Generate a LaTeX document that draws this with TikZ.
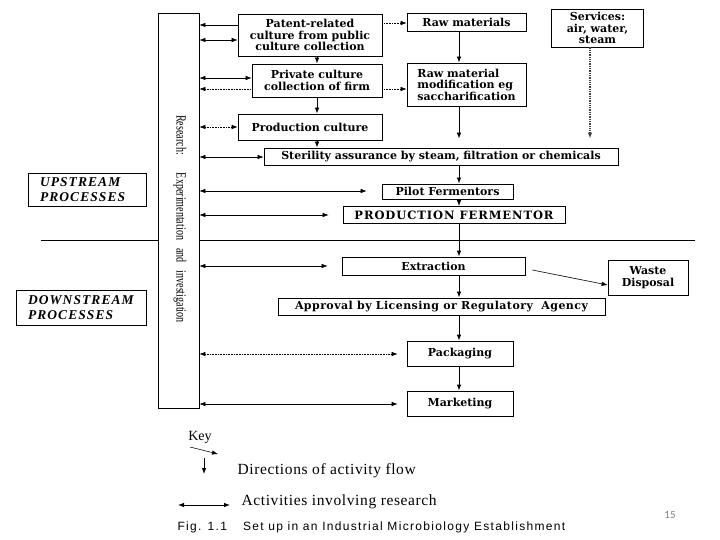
\documentclass[tikz,border=0pt]{standalone}
\usepackage{fontspec}
\setmainfont{Liberation Serif}
\newfontfamily\boxfont{DejaVu Serif}
\newfontfamily\resfont{Liberation Serif}
\newfontfamily\narrowfont[FakeStretch=0.72]{Liberation Serif}
\newfontfamily\capfont{Liberation Sans}
\newfontfamily\numfont{Carlito}
\usetikzlibrary{arrows.meta}
\tikzset{
  >={Latex[length=6pt,width=4.5pt]},
  pbox/.style={draw, line width=0.8pt, inner sep=0pt, align=center,
    font=\boxfont\bfseries\fontsize{11}{11.5}\selectfont},
  sidebox/.style={draw, line width=0.8pt, inner sep=0pt, align=left,
    font=\resfont\bfseries\itshape\fontsize{13.5}{15}\selectfont\addfontfeatures{LetterSpace=8}},
  flow/.style={->, line width=0.8pt},
  res/.style={<->, line width=0.6pt},
  resl/.style={<-, line width=0.6pt},
  dotl/.style={densely dotted},
}
\begin{document}
\begin{tikzpicture}[x=1pt,y=-1pt]
\path[use as bounding box] (0,0) rectangle (720,540);

% main column boxes
\node[pbox, minimum width=41pt, minimum height=395pt] (research) at (178.5,210.5) {};
\node[font=\narrowfont\fontsize{14}{15}\selectfont, rotate=-90] (restext) at (180,219)
  {Research:\hspace{18pt}Experimentation\hspace{8pt}and\hspace{8pt}investigation};

\node[pbox, minimum width=144pt, minimum height=42pt] (patent) at (310,35)
  {Patent-related\\culture from public\\culture collection};
\node[pbox, minimum width=119pt, minimum height=18pt] (raw) at (466.5,22) {Raw materials};
\node[pbox, minimum width=92pt, minimum height=38pt] (services) at (597.5,28)
  {Services:\\air, water,\\steam};
\node[pbox, minimum width=130pt, minimum height=33pt] (private) at (317,80.5)
  {Private culture\\collection of firm};
\node[pbox, minimum width=119pt, minimum height=43pt, align=left] (rawmod) at (466.5,84.5)
  {Raw material\\modification eg\\saccharification};
\node[pbox, minimum width=144pt, minimum height=26pt] (prodcult) at (310,127)
  {Production culture};
\node[pbox, minimum width=354pt, minimum height=17pt] (steril) at (441,156.5)
  {Sterility assurance by steam, filtration or chemicals};
\node[pbox, minimum width=131pt, minimum height=15pt] (pilot) at (447.5,191.5)
  {Pilot Fermentors};
\node[pbox, minimum width=222pt, minimum height=17pt,
  font=\boxfont\bfseries\fontsize{11.5}{12}\selectfont\addfontfeatures{LetterSpace=8}] (pferm) at (454,215)
  {PRODUCTION FERMENTOR};
\node[pbox, minimum width=183pt, minimum height=18pt] (extract) at (433.5,266)
  {Extraction};
\node[pbox, minimum width=80pt, minimum height=35pt] (waste) at (648,277.5)
  {Waste\\Disposal};
\node[pbox, minimum width=327pt, minimum height=17pt,
  font=\boxfont\bfseries\fontsize{11}{12}\selectfont\addfontfeatures{LetterSpace=4}] (approval) at (441.5,306.5)
  {Approval by Licensing or Regulatory\ \ Agency};
\node[pbox, minimum width=106pt, minimum height=25pt] (packaging) at (460,353.5)
  {Packaging};
\node[pbox, minimum width=106pt, minimum height=25pt] (marketing) at (460,403.5)
  {Marketing};

% side labels
\node[sidebox, minimum width=118pt, minimum height=33pt, text width=94pt] (upstream) at (87,189.5)
  {UPSTREAM\\PROCESSES};
\node[sidebox, minimum width=130pt, minimum height=35pt, text width=106pt] (downstream) at (81,307.5)
  {DOWNSTREAM\\PROCESSES};

% divider
\coordinate (ydiv) at (0,240.5);
\coordinate (xdivl) at (41,0);
\coordinate (xdivr) at (695,0);
\draw[line width=1.6pt] (xdivl |- ydiv) -- (research.west |- ydiv);
\draw[line width=1.6pt] (research.east |- ydiv) -- (xdivr |- ydiv);

% flow arrows
\coordinate (fx) at (459,0);
\coordinate (cx) at (317,0);
\coordinate (sx) at (590,0);
\draw[flow] (patent.south -| cx) -- (private.north -| cx);
\draw[flow] (private.south -| cx) -- (prodcult.north -| cx);
\draw[flow] (prodcult.south -| cx) -- (steril.north -| cx);
\draw[flow] (raw.south -| fx) -- (rawmod.north -| fx);
\draw[flow, shorten >=9pt] (rawmod.south -| fx) -- (steril.north -| fx);
\draw[flow, line width=1.3pt, draw=black!75, densely dotted, shorten >=9pt] (services.south -| sx) -- (steril.north -| sx);
\draw[flow] (steril.south -| fx) -- (pilot.north -| fx);
\draw[flow] (pilot.south -| fx) -- (pferm.north -| fx);
\draw[flow] (pferm.south -| fx) -- (extract.north -| fx);
\draw[flow] (extract.south -| fx) -- (approval.north -| fx);
\draw[flow] (approval.south -| fx) -- (packaging.north -| fx);
\draw[flow] (packaging.south -| fx) -- (marketing.north -| fx);
\coordinate (y23) at (0,23);
\coordinate (y89) at (0,89);
\draw[flow, line width=0.6pt, dotl] (patent.east |- y23) -- (raw.west |- y23);
\draw[flow, line width=0.6pt, dotl] (private.east |- y89) -- (rawmod.west |- y89);
\coordinate (wy) at (0,285);
\draw[flow, line width=0.6pt] ([shift={(7,4)}]extract.east) -- (waste.west |- wy);

% research arrows
\coordinate (r25) at (0,25);
\coordinate (r40) at (0,40);
\coordinate (r78) at (0,78);
\coordinate (r127) at (0,127);
\coordinate (r157) at (0,157);
\coordinate (r191) at (0,191);
\coordinate (r215) at (0,215);
\coordinate (r266) at (0,266);
\coordinate (r354) at (0,354);
\coordinate (r404) at (0,404);
\draw[resl] (research.east |- r25) -- (patent.west |- r25);
\draw[res] (research.east |- r40) -- (patent.west |- r40);
\draw[res] (research.east |- r78) -- (private.west |- r78);
\draw[resl, dotl] (research.east |- y89) -- (private.west |- y89);
\draw[res, dotl] (research.east |- r127) -- (prodcult.west |- r127);
\draw[res] (research.east |- r157) -- (steril.west |- r157);
\draw[res, shorten >=15pt] (research.east |- r191) -- (pilot.west |- r191);
\draw[res, shorten >=14pt] (research.east |- r215) -- (pferm.west |- r215);
\draw[res, shorten >=14pt] (research.east |- r266) -- (extract.west |- r266);
\draw[res, dotl, shorten >=9pt] (research.east |- r354) -- (packaging.west |- r354);
\draw[res, shorten >=9pt] (research.east |- r404) -- (marketing.west |- r404);

% key
\node[font=\resfont\fontsize{14}{15}\selectfont] (key) at (200,437) {Key};
\coordinate (k1) at (190,447);
\coordinate (k2) at (218,454);
\draw[->, line width=0.6pt] (k1) -- (k2);
\coordinate (kd1) at (204,458);
\coordinate (kd2) at (204,474);
\draw[flow] (kd1) -- (kd2);
\node[font=\resfont\fontsize{15.5}{16}\selectfont\addfontfeatures{LetterSpace=4}, anchor=west] (kflow) at (234,471)
  {Directions of activity flow};
\coordinate (ka) at (178,505);
\coordinate (kb) at (230,505);
\draw[res, line width=0.8pt] (ka) -- (kb);
\node[font=\resfont\fontsize{15.5}{16}\selectfont\addfontfeatures{LetterSpace=4}, anchor=west] (kres) at (238,502)
  {Activities involving research};
\node[font=\capfont\fontsize{12}{13}\selectfont\addfontfeatures{LetterSpace=11}, anchor=west] (caption) at (174,527)
  {Fig. 1.1\hspace{16pt}Set up in an Industrial Microbiology Establishment};
\node[font=\numfont\fontsize{11}{12}\selectfont, text=gray] (pnum) at (670,515) {15};
\end{tikzpicture}
\end{document}
